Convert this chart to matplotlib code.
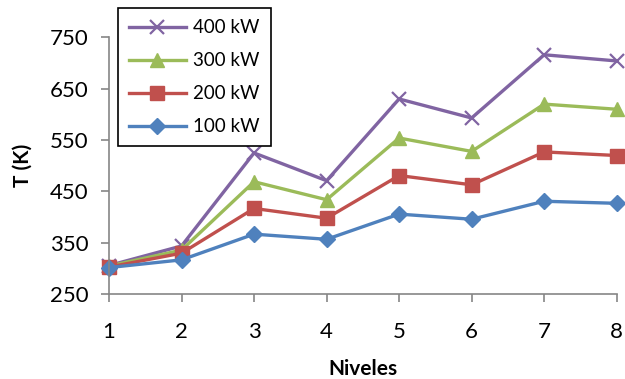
import matplotlib.pyplot as plt

plt.rcParams['font.family'] = ['Lato', 'DejaVu Sans']

niveles = [1, 2, 3, 4, 5, 6, 7, 8]
t_100 = [302, 317, 367, 357, 406, 396, 431, 427]
t_200 = [303, 330, 417, 398, 481, 463, 527, 520]
t_300 = [305, 336, 469, 434, 554, 528, 620, 610]
t_400 = [306, 344, 525, 471, 630, 593, 716, 704]

fig = plt.figure(figsize=(6.25, 3.79), dpi=100)
ax = fig.add_axes([0.1744, 0.2235, 0.8123, 0.6781])

lw = 2.4
l4, = ax.plot(niveles, t_400, color='#8064A2', lw=lw, marker='x', ms=10, mew=1.6, label='400 kW')
l3, = ax.plot(niveles, t_300, color='#9BBB59', lw=lw, marker='^', ms=10, label='300 kW')
l2, = ax.plot(niveles, t_200, color='#C0504D', lw=lw, marker='s', ms=9.5, label='200 kW')
l1, = ax.plot(niveles, t_100, color='#4F81BD', lw=lw, marker='D', ms=8, label='100 kW')

for l in (l1, l2, l3, l4):
    l.set_clip_on(False)

ax.set_xlim(1, 8)
ax.set_ylim(250, 750)
ax.set_xticks(niveles)
ax.set_yticks([250, 350, 450, 550, 650, 750])
ax.spines['top'].set_visible(False)
ax.spines['right'].set_visible(False)
for s in ('left', 'bottom'):
    ax.spines[s].set_color('#868686')
    ax.spines[s].set_linewidth(1.2)
ax.tick_params(axis='both', colors='#868686', labelcolor='black', labelsize=16,
               length=6, width=1.2)
ax.tick_params(axis='x', pad=14)
ax.tick_params(axis='y', pad=9)

ax.set_xlabel('Niveles', fontsize=15, fontweight='bold', labelpad=12)
ax.set_ylabel('T (K)', fontsize=15, fontweight='bold', labelpad=12)

leg = fig.legend(handles=[l4, l3, l2, l1], loc='upper left',
                 bbox_to_anchor=(118 / 625, 1 - 8 / 379), borderaxespad=0,
                 fontsize=13.5, frameon=True, fancybox=False, borderpad=0.6,
                 labelspacing=0.85, handlelength=3.0, handletextpad=0.4)
leg.get_frame().set_edgecolor('black')
leg.get_frame().set_linewidth(1.2)
leg.get_frame().set_alpha(1)

fig.savefig('out.png', dpi=100)
